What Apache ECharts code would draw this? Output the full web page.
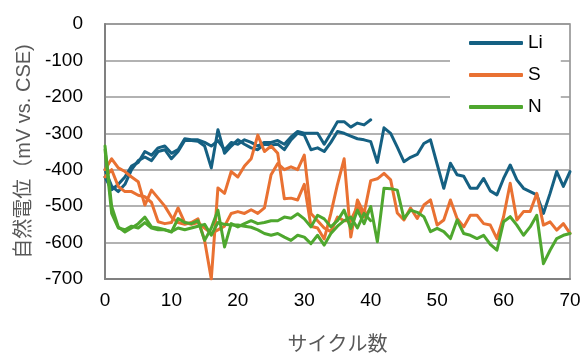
<!DOCTYPE html>
<html>
<head>
<meta charset="utf-8">
<script src="https://cdn.jsdelivr.net/npm/echarts@6/dist/echarts.min.js"></script>
<style>
html,body{margin:0;padding:0;background:#fff;}
#chart{width:585px;height:355px;}
</style>
</head>
<body>
<div id="chart"></div>
<script>
// cycles
const cyclesLong = Array.from({length: 71}, (_, i) => i);   // 0..70
const cyclesShort = Array.from({length: 41}, (_, i) => i);  // 0..40
const xTicks = [0, 10, 20, 30, 40, 50, 60, 70];
const yTicks = [0, -100, -200, -300, -400, -500, -600, -700];

// Li specimens
const liA = [-400,-445,-460,-440,-400,-375,-365,-375,-350,-345,
             -370,-350,-320,-320,-322,-335,-395,-290,-355,-335,
             -318,-330,-340,-345,-330,-332,-330,-345,-318,-300,
             -305,-345,-340,-350,-325,-295,-300,-308,-315,-318,
             -323,-380,-285,-300,-338,-378,-366,-358,-328,-318,
             -385,-451,-382,-414,-418,-451,-451,-424,-458,-469,
             -424,-387,-428,-451,-460,-469,-520,-465,-405,-446,-405];
const liB = [-420,-455,-440,-420,-390,-380,-350,-360,-340,-335,
             -355,-345,-315,-318,-318,-325,-335,-320,-345,-325,
             -330,-318,-325,-335,-325,-325,-320,-330,-310,-295,
             -300,-300,-300,-330,-300,-268,-268,-283,-272,-277,-263];

// S specimens
const sA = [-400,-370,-395,-405,-420,-433,-497,-456,-478,-500,
            -530,-545,-550,-545,-535,-595,-700,-450,-465,-405,
            -420,-390,-370,-305,-350,-335,-355,-480,-478,-483,
            -440,-555,-560,-590,-520,-440,-370,-585,-483,-520,
            -430,-425,-410,-428,-519,-538,-505,-534,-497,-483,
            -552,-538,-483,-534,-557,-525,-525,-548,-552,-589,
            -529,-437,-538,-515,-515,-465,-552,-543,-566,-548,-575];
const sB = [-420,-400,-446,-460,-460,-470,-474,-490,-543,-548,
            -545,-505,-545,-550,-545,-560,-575,-565,-555,-520,
            -515,-520,-510,-520,-505,-414,-383,-400,-392,-400,
            -360,-520,-540,-560,-570,-530,-540,-540,-500,-530,-505];

// N specimens
const nA = [-335,-500,-557,-571,-560,-548,-530,-557,-560,-565,
            -571,-534,-545,-548,-540,-594,-560,-511,-612,-548,
            -557,-548,-540,-548,-545,-540,-540,-530,-533,-521,
            -535,-557,-525,-535,-557,-540,-511,-561,-511,-548,
            -501,-598,-451,-452,-456,-534,-511,-517,-529,-570,
            -561,-570,-589,-538,-575,-580,-589,-580,-605,-621,
            -543,-529,-552,-580,-557,-525,-658,-621,-589,-580,-575];
const nB = [-345,-520,-560,-565,-555,-560,-545,-560,-565,-565,
            -570,-560,-565,-560,-555,-550,-580,-545,-550,-552,
            -552,-555,-558,-565,-575,-580,-575,-585,-594,-580,
            -585,-603,-580,-607,-575,-555,-540,-530,-560,-520,-540];

const names = ['Li', 'S', 'N'];
const colors = ['#156082', '#E97132', '#4EA72E'];

function pairs(xs, ys) { return xs.map((x, i) => [x, ys[i]]); }

const FONT = "'Liberation Sans', 'Noto Sans CJK JP', sans-serif";

function mk(name, color, xs, ys) {
  return {
    name: name, type: 'line', data: pairs(xs, ys),
    symbol: 'none', showSymbol: false,
    lineStyle: {color: color, width: 3, join: 'round', cap: 'round'},
    itemStyle: {color: color},
    animation: false
  };
}

const chart = echarts.init(document.getElementById('chart'), null, {renderer: 'canvas'});
chart.setOption({
  backgroundColor: '#fff',
  animation: false,
  textStyle: {fontFamily: FONT},
  grid: {left: 105, right: 15, top: 24, bottom: 76, show: true,
         containLabel: false, outerBoundsMode: 'none',
         borderColor: '#8a8a8a', borderWidth: 1.5, backgroundColor: 'transparent'},
  legend: {
    data: names,
    orient: 'vertical',
    left: 450, top: 25,
    padding: [8, 18, 12, 19],
    backgroundColor: '#fff',
    itemWidth: 54, itemHeight: 4, itemGap: 12,
    icon: 'roundRect',
    textStyle: {fontSize: 19, color: '#000', fontFamily: FONT, lineHeight: 20, padding: [0,0,0,0]},
    inactiveColor: '#ccc'
  },
  xAxis: {
    type: 'value', min: 0, max: 70, interval: 10,
    name: 'サイクル数', nameLocation: 'middle', nameGap: 56,
    nameTextStyle: {fontSize: 20, color: '#595959', fontFamily: FONT},
    axisLine: {onZero: false, lineStyle: {color: '#808080', width: 2}},
    axisTick: {show: false},
    axisLabel: {fontSize: 19, color: '#000', margin: 12, fontFamily: FONT,
      formatter: v => xTicks.includes(v) ? String(v) : ''},
    splitLine: {show: false}
  },
  yAxis: {
    type: 'value', min: -700, max: 0, interval: 100,
    name: '自然電位（mV vs. CSE)', nameLocation: 'middle', nameGap: 70,
    nameTextStyle: {fontSize: 20, color: '#595959', fontFamily: FONT},
    axisLine: {onZero: false, lineStyle: {color: '#808080', width: 2}},
    axisTick: {show: false},
    axisLabel: {fontSize: 19, color: '#000', margin: 22, fontFamily: FONT,
      formatter: v => yTicks.includes(v) ? String(v) : ''},
    splitLine: {show: true, lineStyle: {color: '#999', width: 1.5}}
  },
  series: [
    mk('Li', colors[0], cyclesLong, liA),
    mk('Li', colors[0], cyclesShort, liB),
    mk('S', colors[1], cyclesLong, sA),
    mk('S', colors[1], cyclesShort, sB),
    mk('N', colors[2], cyclesLong, nA),
    mk('N', colors[2], cyclesShort, nB)
  ]
});
</script>
</body>
</html>
